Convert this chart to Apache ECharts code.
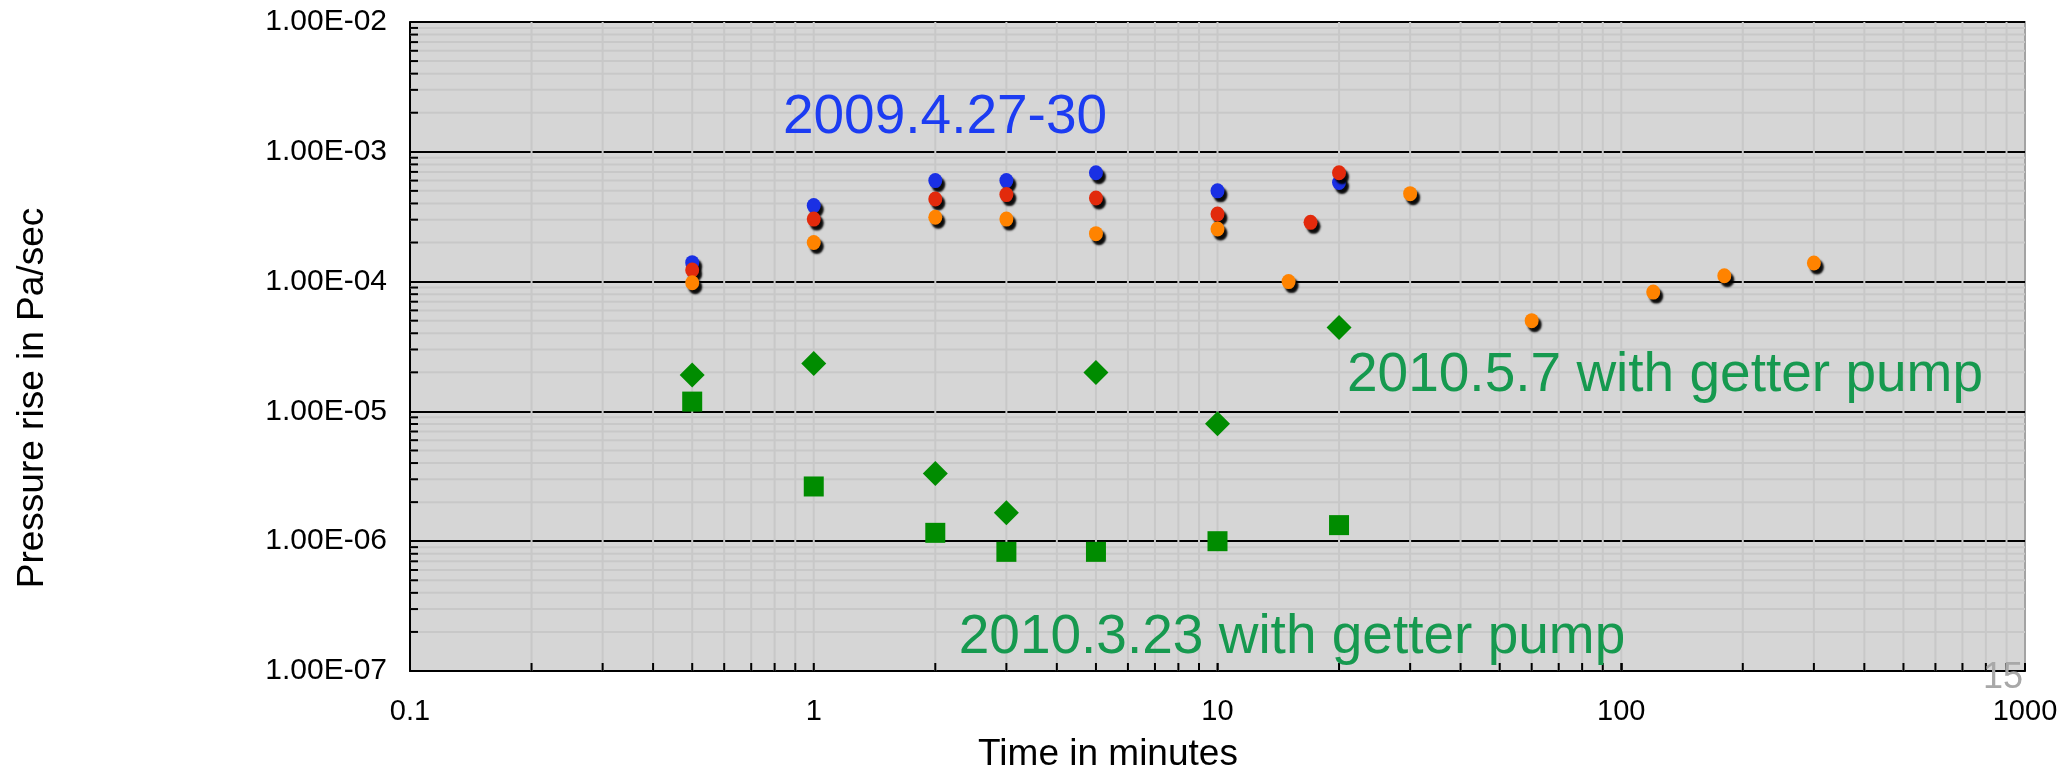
<!DOCTYPE html>
<html>
<head>
<meta charset="utf-8">
<script src="https://cdn.jsdelivr.net/npm/echarts@6/dist/echarts.min.js"></script>
<style>
html, body { margin: 0; padding: 0; background: #fff; }
#chart { width: 2069px; height: 775px; }
</style>
</head>
<body>
<div id="chart"></div>
<script>
// pressure rise (Pa/sec) vs time (minutes)
const timesBlue = [0.5, 1, 2, 3, 5, 10, 20];
const riseBlue = [1.40e-4, 3.85e-4, 6.0e-4, 6.0e-4, 6.9e-4, 5.0e-4, 5.8e-4];

const timesRed = [0.5, 1, 2, 3, 5, 10, 17, 20];
const riseRed = [1.23e-4, 3.03e-4, 4.33e-4, 4.68e-4, 4.41e-4, 3.32e-4, 2.86e-4, 6.9e-4];

const timesOrange = [0.5, 1, 2, 3, 5, 10, 15, 30, 60, 120, 180, 300];
const riseOrange = [9.8e-5, 2.0e-4, 3.13e-4, 3.03e-4, 2.34e-4, 2.54e-4, 1.0e-4, 4.76e-4, 5.0e-5, 8.3e-5, 1.11e-4, 1.39e-4];

const timesGetter = [0.5, 1, 2, 3, 5, 10, 20];
const riseMay7 = [1.91e-5, 2.34e-5, 3.33e-6, 1.66e-6, 1.99e-5, 8.03e-6, 4.43e-5];
const riseMar23 = [1.19e-5, 2.64e-6, 1.16e-6, 8.28e-7, 8.28e-7, 1.0e-6, 1.33e-6];

// axis ranges and log grid
const xMin = 0.1, xMax = 1000;
const yMin = 1e-7, yMax = 1e-2;
const xDecades = [0.1, 1, 10, 100];
const yDecades = [1e-7, 1e-6, 1e-5, 1e-4, 1e-3];
const minorSteps = [2, 3, 4, 5, 6, 7, 8, 9];

const xGridValues = [];
xDecades.forEach((d) => {
    if (d > xMin) xGridValues.push(d);
    minorSteps.forEach((m) => xGridValues.push(+(d * m).toPrecision(3)));
});
const yGridValues = [];
yDecades.forEach((d) => {
    minorSteps.forEach((m) => yGridValues.push(+(d * m).toPrecision(3)));
});

const zip = (xs, ys) => xs.map((x, i) => [x, ys[i]]);

const fmtExp = (v) => {
    const parts = v.toExponential(2).split("e");
    const n = parseInt(parts[1], 10);
    return parts[0] + "E" + (n < 0 ? "-" : "+") + String(Math.abs(n)).padStart(2, "0");
};

const dotStyle = (color) => ({
    color: color,
    opacity: 1,
    shadowColor: "rgba(0,0,0,0.95)",
    shadowBlur: 2,
    shadowOffsetX: 3,
    shadowOffsetY: 4,
});

const FONT = '"Liberation Sans", Arial, sans-serif';

const myChart = echarts.init(document.getElementById("chart"));

const option = {
    animation: false,
    grid: {
        left: 410,
        right: 44,
        top: 22,
        bottom: 104,
        show: true,
        backgroundColor: "#d6d6d6",
        borderColor: "#a3a3a3",
        borderWidth: 2,
    },
    xAxis: {
        type: "log",
        logBase: 10,
        min: xMin,
        max: xMax,
        splitNumber: 4,
        axisLine: { show: true, onZero: false, lineStyle: { color: "#000", width: 2 } },
        axisTick: { show: true, inside: true, length: 8, lineStyle: { color: "#000", width: 2 } },
        splitLine: { show: false },
        axisLabel: {
            margin: 26,
            fontSize: 29,
            fontFamily: FONT,
            color: "#000",
            formatter: (v) => String(parseFloat(v.toPrecision(3))),
        },
    },
    yAxis: {
        type: "log",
        logBase: 10,
        min: yMin,
        max: yMax,
        splitNumber: 5,
        axisLine: { show: true, onZero: false, lineStyle: { color: "#000", width: 2 } },
        axisTick: { show: true, inside: true, length: 8, lineStyle: { color: "#000", width: 2 } },
        splitLine: { show: true, lineStyle: { color: "#000", width: 2 } },
        axisLabel: {
            margin: 23,
            fontSize: 30,
            fontFamily: FONT,
            color: "#000",
            formatter: fmtExp,
        },
    },
    graphic: [
        {
            type: "text", x: 33, y: 398, rotation: Math.PI / 2,
            style: { text: "Pressure rise in Pa/sec", font: "37px " + FONT, fill: "#000", align: "center", verticalAlign: "middle" },
        },
        {
            type: "text", x: 1108, y: 755,
            style: { text: "Time in minutes", font: "37px " + FONT, fill: "#000", align: "center", verticalAlign: "middle" },
        },
        {
            type: "text", x: 945, y: 118, z: 10,
            style: { text: "2009.4.27-30", font: "55px " + FONT, fill: "#1c3cf2", align: "center", verticalAlign: "middle" },
        },
        {
            type: "text", x: 1665, y: 376, z: 10,
            style: { text: "2010.5.7 with getter pump", font: "55px " + FONT, fill: "#16994f", align: "center", verticalAlign: "middle" },
        },
        {
            type: "text", x: 1292, y: 638, z: 10,
            style: { text: "2010.3.23 with getter pump", font: "55px " + FONT, fill: "#16994f", align: "center", verticalAlign: "middle" },
        },
        {
            type: "text", x: 2003, y: 678, z: 10,
            style: { text: "15", font: "36px " + FONT, fill: "#a8a8a8", align: "center", verticalAlign: "middle" },
        },
    ],
    series: [
        {
            // minor horizontal grid lines + inside ticks on the y axis
            type: "custom",
            silent: true,
            z: 1,
            data: yGridValues.map((v) => [xMin, v]),
            renderItem: (params, api) => {
                const cs = params.coordSys;
                const y = api.coord([xMin, api.value(1)])[1];
                return {
                    type: "group",
                    children: [
                        { type: "line", shape: { x1: cs.x, y1: y, x2: cs.x + cs.width, y2: y }, style: { stroke: "#c8c8c8", lineWidth: 2 } },
                        { type: "line", shape: { x1: cs.x, y1: y, x2: cs.x + 8, y2: y }, style: { stroke: "#000", lineWidth: 2 } },
                    ],
                };
            },
        },
        {
            // vertical grid lines + inside ticks on the x axis
            type: "custom",
            silent: true,
            z: 1,
            data: xGridValues.map((v) => [v, yMin]),
            renderItem: (params, api) => {
                const cs = params.coordSys;
                const x = api.coord([api.value(0), yMin])[0];
                const bottom = cs.y + cs.height;
                return {
                    type: "group",
                    children: [
                        { type: "line", shape: { x1: x, y1: cs.y, x2: x, y2: bottom }, style: { stroke: "#c8c8c8", lineWidth: 2 } },
                        { type: "line", shape: { x1: x, y1: bottom, x2: x, y2: bottom - 8 }, style: { stroke: "#000", lineWidth: 2 } },
                    ],
                };
            },
        },
        {
            name: "blue",
            type: "scatter",
            z: 3,
            symbol: "circle",
            symbolSize: [14, 15],
            itemStyle: dotStyle("#1a30e4"),
            data: zip(timesBlue, riseBlue),
        },
        {
            name: "red",
            type: "scatter",
            z: 3,
            symbol: "circle",
            symbolSize: [14, 15],
            itemStyle: dotStyle("#e22a0c"),
            data: zip(timesRed, riseRed),
        },
        {
            name: "orange",
            type: "scatter",
            z: 3,
            symbol: "circle",
            symbolSize: [14, 15],
            itemStyle: dotStyle("#ff8300"),
            data: zip(timesOrange, riseOrange),
        },
        {
            name: "2010.5.7 with getter pump",
            type: "scatter",
            z: 3,
            symbol: "diamond",
            symbolSize: [25, 25],
            itemStyle: { color: "#008c00", opacity: 1 },
            data: zip(timesGetter, riseMay7),
        },
        {
            name: "2010.3.23 with getter pump",
            type: "scatter",
            z: 3,
            symbol: "rect",
            symbolSize: [20, 20],
            itemStyle: { color: "#008c00", opacity: 1 },
            data: zip(timesGetter, riseMar23),
        },
    ],
};

myChart.setOption(option);
</script>
</body>
</html>
